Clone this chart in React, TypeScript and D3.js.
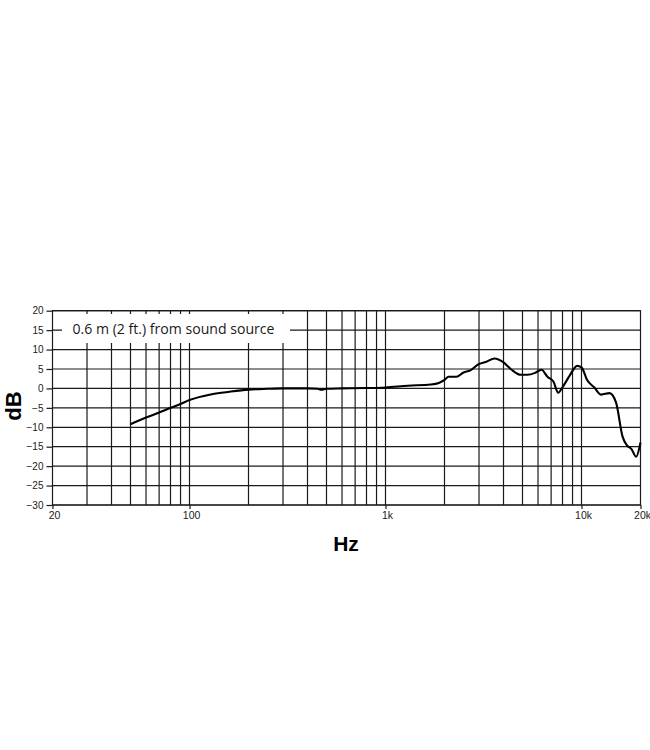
import * as d3 from 'd3';
import React, { useEffect, useRef } from 'react';

// frequency response
const freqs = [
  50, 60, 70, 80, 90, 100, 130, 160, 200, 250, 300, 400, 450, 470, 500, 600, 800, 1000, 1300, 1700,
  1870, 2000, 2100, 2300, 2500, 2700, 3000, 3250, 3600, 4000, 4400, 4900, 5300, 5800, 6250, 6700,
  7200, 7600, 8000, 8700, 9500, 10000, 10700, 11600, 12600, 13900, 15000, 16200, 17100, 18000, 19000,
  20000,
];
const levels = [
  -9.2, -7.5, -6.2, -5.0, -4.0, -3.0, -1.5, -0.85, -0.3, -0.1, 0.0, 0.0, -0.1, -0.35, -0.1, 0.0, 0.1,
  0.25, 0.7, 1.0, 1.4, 2.2, 3.0, 3.0, 4.1, 4.6, 6.3, 6.8, 7.7, 6.7, 4.8, 3.5, 3.5, 4.0, 4.8, 3.0, 1.7,
  -1.1, 0.3, 3.3, 5.8, 5.4, 2.1, 0.3, -1.6, -1.2, -3.6, -12.4, -14.7, -15.6, -17.6, -13.9,
];

const dbTicks = [20, 15, 10, 5, 0, -5, -10, -15, -20, -25, -30];
const hzTicks = [20, 100, 1000, 10000, 20000];
const hzTickLabels = ['20', '100', '1k', '10k', '20k'];
const gridFreqs = [
  30, 40, 50, 60, 70, 80, 90, 100, 200, 300, 400, 500, 600, 700, 800, 900, 1000, 2000, 3000, 4000,
  5000, 6000, 7000, 8000, 9000, 10000,
];
const caption = '0.6 m (2 ft.) from sound source';

const App: React.FC = () => {
  const svgRef = useRef<SVGSVGElement | null>(null);

  useEffect(() => {
    const svg = d3.select(svgRef.current);
    const width = 650;
    const height = 750;
    const left = 52.5;
    const right = 640.5;
    const top = 310.7;
    const bottom = 505;
    const ink = '#1a1a1a';

    svg.selectAll('*').remove();
    svg.attr('width', width).attr('height', height);

    const x = d3.scaleLog().domain([20, 20000]).range([left, right]);
    const y = d3.scaleLinear().domain([-30, 20]).range([bottom, top]);

    const grid = svg.append('g').attr('stroke', ink).attr('stroke-width', 1.2);

    grid
      .selectAll('line.h')
      .data(dbTicks)
      .join('line')
      .attr('class', 'h')
      .attr('x1', left)
      .attr('x2', right)
      .attr('y1', (d) => y(d))
      .attr('y2', (d) => y(d));

    grid
      .selectAll('line.v')
      .data(gridFreqs)
      .join('line')
      .attr('class', 'v')
      .attr('x1', (d) => x(d))
      .attr('x2', (d) => x(d))
      .attr('y1', top)
      .attr('y2', bottom);

    grid
      .append('rect')
      .attr('x', left)
      .attr('y', top)
      .attr('width', right - left)
      .attr('height', bottom - top)
      .attr('fill', 'none');

    // label box knocks out the grid behind it
    svg
      .append('rect')
      .attr('x', 62)
      .attr('y', 314)
      .attr('width', 228)
      .attr('height', 29)
      .attr('fill', '#fff');

    svg
      .append('text')
      .attr('x', 72.5)
      .attr('y', 333.5)
      .attr('font-family', '"Open Sans", sans-serif')
      .attr('font-size', 14)
      .attr('textLength', 202)
      .attr('lengthAdjust', 'spacingAndGlyphs')
      .attr('fill', ink)
      .text(caption);

    // y axis
    const yAxis = svg.append('g').attr('transform', `translate(${left},0)`);
    yAxis.call(d3.axisLeft(y).tickValues(dbTicks).tickSize(6).tickPadding(3));
    yAxis.select('.domain').remove();
    yAxis.selectAll('line').attr('stroke', ink).attr('stroke-width', 1.2);
    yAxis
      .selectAll('text')
      .attr('font-family', '"Liberation Sans", Arial, sans-serif')
      .attr('font-size', 10)
      .attr('fill', ink);

    // x axis
    const xAxis = svg.append('g').attr('transform', `translate(0,${bottom})`);
    xAxis.call(
      d3
        .axisBottom(x)
        .tickValues(hzTicks)
        .tickFormat((_, i) => hzTickLabels[i])
        .tickSize(4)
        .tickPadding(3),
    );
    xAxis.select('.domain').remove();
    xAxis.selectAll('line').attr('stroke', ink).attr('stroke-width', 1.2);
    xAxis
      .selectAll('text')
      .attr('font-family', '"Liberation Sans", Arial, sans-serif')
      .attr('font-size', 10.5)
      .attr('fill', ink)
      .attr('dx', '0.15em');

    const line = d3
      .line<number>()
      .x((d) => x(d))
      .y((_, i) => y(levels[i]))
      .curve(d3.curveMonotoneX);

    svg
      .append('path')
      .datum(freqs)
      .attr('fill', 'none')
      .attr('stroke', '#000')
      .attr('stroke-width', 2.1)
      .attr('stroke-linejoin', 'round')
      .attr('d', line);

    svg
      .append('text')
      .attr('transform', 'translate(21,406) rotate(-90)')
      .attr('text-anchor', 'middle')
      .attr('font-family', '"Liberation Sans", Arial, sans-serif')
      .attr('font-weight', 'bold')
      .attr('font-size', 22)
      .attr('fill', '#000')
      .text('dB');

    svg
      .append('text')
      .attr('x', 346)
      .attr('y', 550.5)
      .attr('text-anchor', 'middle')
      .attr('font-family', '"Liberation Sans", Arial, sans-serif')
      .attr('font-weight', 'bold')
      .attr('font-size', 21)
      .attr('fill', '#000')
      .text('Hz');
  }, []);

  return (
    <div style={{ position: 'absolute', left: 0, top: 0 }}>
      <svg ref={svgRef} style={{ display: 'block' }}></svg>
    </div>
  );
};

export default App;
